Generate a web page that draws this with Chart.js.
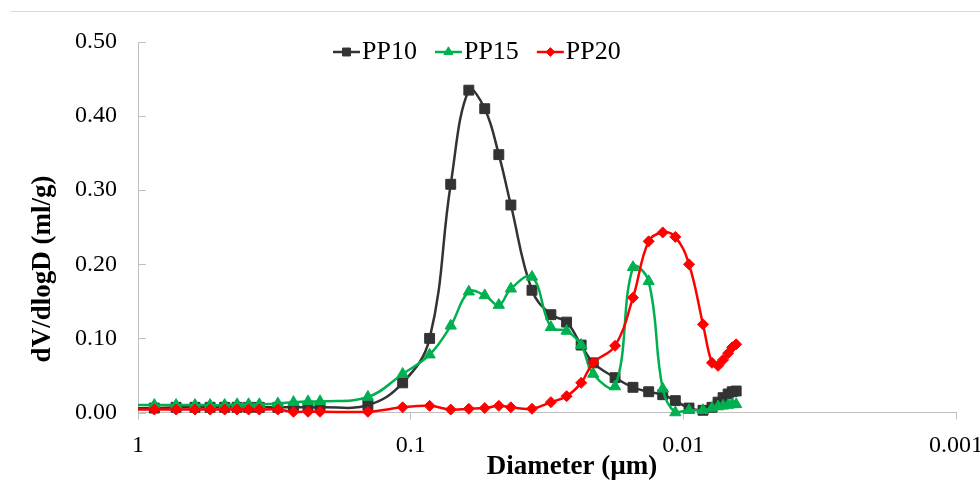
<!DOCTYPE html>
<html>
<head>
<meta charset="utf-8">
<script src="https://cdn.jsdelivr.net/npm/chart.js@4.4.1/dist/chart.umd.min.js"></script>
<style>
  html, body { margin: 0; padding: 0; background: #fff; }
  #wrap { width: 980px; height: 481px; }
</style>
</head>
<body>
<div id="wrap"><canvas id="poreChart" width="980" height="481"></canvas></div>
<script>
// pore diameter (um)
const diameters = [1.2, 0.871, 0.725, 0.618, 0.544, 0.481, 0.433, 0.393, 0.359, 0.307, 0.269, 0.238, 0.215,
  0.1435, 0.107, 0.0852, 0.0713, 0.0612, 0.0535, 0.0475, 0.0429, 0.0359, 0.0306, 0.0268, 0.0237, 0.0214,
  0.0178, 0.0153, 0.0134, 0.0119, 0.0107, 0.00953, 0.00847, 0.00785, 0.00746, 0.00715, 0.00685, 0.00662, 0.0064];

// dV/dlogD (ml/g)
const pp10 = [0.006, 0.006, 0.007, 0.007, 0.007, 0.007, 0.007, 0.007, 0.007, 0.007, 0.007, 0.007, 0.007,
  0.010, 0.040, 0.100, 0.308, 0.435, 0.410, 0.348, 0.280, 0.165, 0.132, 0.122, 0.091, 0.067,
  0.047, 0.034, 0.028, 0.024, 0.016, 0.006, 0.003, 0.007, 0.014, 0.020, 0.025, 0.028, 0.029];
const pp15 = [0.010, 0.010, 0.010, 0.010, 0.010, 0.010, 0.011, 0.011, 0.011, 0.012, 0.014, 0.015, 0.015,
  0.021, 0.052, 0.078, 0.117, 0.163, 0.158, 0.145, 0.167, 0.183, 0.115, 0.110, 0.091, 0.052,
  0.035, 0.196, 0.177, 0.032, 0.000, 0.003, 0.003, 0.006, 0.008, 0.009, 0.010, 0.011, 0.011];
const pp20 = [0.004, 0.004, 0.004, 0.004, 0.004, 0.004, 0.004, 0.004, 0.004, 0.004, 0.001, 0.001, 0.001,
  0.001, 0.007, 0.009, 0.004, 0.005, 0.006, 0.009, 0.007, 0.005, 0.014, 0.022, 0.040, 0.067,
  0.090, 0.155, 0.231, 0.243, 0.237, 0.200, 0.119, 0.067, 0.063, 0.071, 0.080, 0.088, 0.092];

const seriesNames = ["PP10", "PP15", "PP20"];
const xTickValues = [1, 0.1, 0.01, 0.001];
const xTickLabels = ["1", "0.1", "0.01", "0.001"];
const yTickValues = [0, 0.1, 0.2, 0.3, 0.4, 0.5];
const xTitle = "Diameter (µm)";
const yTitle = "dV/dlogD (ml/g)";

const FONT = "'Liberation Serif', 'Times New Roman', serif";
const AXIS_GREY = "#bfbfbf";

const toPoints = vals => vals.map((v, i) => ({ x: diameters[i], y: v }));

function makeSet(label, vals, color, style, radius, order) {
  return {
    label,
    data: toPoints(vals),
    borderColor: color,
    backgroundColor: color,
    borderWidth: 2.5,
    pointStyle: style,
    pointRadius: radius,
    pointBorderWidth: 1,
    pointBorderColor: color,
    pointBackgroundColor: color,
    tension: 0.4,
    order,
    clip: { left: 0, top: 10, right: 10, bottom: 10 }
  };
}

// thin rule across the top of the picture
const topRule = {
  id: "topRule",
  beforeDraw(chart) {
    const ctx = chart.ctx;
    ctx.save();
    ctx.strokeStyle = "#d9d9d9";
    ctx.lineWidth = 1;
    ctx.beginPath();
    ctx.moveTo(10, 11.5);
    ctx.lineTo(980, 11.5);
    ctx.stroke();
    ctx.restore();
  }
};

// y tick marks point into the plot
const innerTicks = {
  id: "innerTicks",
  beforeDatasetsDraw(chart) {
    const ctx = chart.ctx, y = chart.scales.y, left = chart.chartArea.left;
    ctx.save();
    ctx.strokeStyle = AXIS_GREY;
    ctx.lineWidth = 1;
    yTickValues.forEach(v => {
      const py = Math.round(y.getPixelForValue(v)) + 0.5;
      ctx.beginPath();
      ctx.moveTo(left, py);
      ctx.lineTo(left + 8, py);
      ctx.stroke();
    });
    ctx.restore();
  }
};

const axisTitles = {
  id: "axisTitles",
  afterDraw(chart) {
    const ctx = chart.ctx;
    ctx.save();
    ctx.fillStyle = "#000";
    ctx.font = "bold 27px " + FONT;
    ctx.textAlign = "center";
    ctx.textBaseline = "middle";
    ctx.fillText(xTitle, 572, 467);
    ctx.translate(43, 269);
    ctx.rotate(-Math.PI / 2);
    ctx.fillText(yTitle, 0, 0);
    ctx.restore();
  }
};

// line + marker legend like the spreadsheet one
const lineLegend = {
  id: "lineLegend",
  afterDraw(chart) {
    const ctx = chart.ctx;
    let x = 333;
    const y = 52;
    ctx.save();
    ctx.font = "26px " + FONT;
    ctx.textBaseline = "middle";
    chart.data.datasets.forEach(ds => {
      ctx.strokeStyle = ds.borderColor;
      ctx.fillStyle = ds.borderColor;
      ctx.lineWidth = 2.5;
      ctx.beginPath();
      ctx.moveTo(x, y);
      ctx.lineTo(x + 27, y);
      ctx.stroke();
      ctx.lineWidth = 1;
      Chart.helpers.drawPoint(ctx, { pointStyle: ds.pointStyle, radius: ds.pointRadius * 0.8, borderWidth: 1, rotation: 0 }, x + 13.5, y);
      ctx.fillStyle = "#000";
      ctx.fillText(ds.label, x + 29, y);
      x += 29 + ctx.measureText(ds.label).width + 18;
    });
    ctx.restore();
  }
};

new Chart(document.getElementById("poreChart"), {
  type: "line",
  data: {
    datasets: [
      makeSet(seriesNames[0], pp10, "#333333", "rect", 7, 3),
      makeSet(seriesNames[1], pp15, "#00b050", "triangle", 6.5, 2),
      makeSet(seriesNames[2], pp20, "#ff0000", "rectRot", 5.5, 1)
    ]
  },
  options: {
    responsive: false,
    devicePixelRatio: 1,
    animation: false,
    layout: { padding: { top: 42, right: 24, bottom: 0, left: 0 } },
    plugins: { legend: { display: false }, tooltip: { enabled: false } },
    scales: {
      x: {
        type: "logarithmic",
        reverse: true,
        min: 0.001,
        max: 1,
        afterBuildTicks: s => { s.ticks = xTickValues.map(v => ({ value: v })); },
        afterFit: s => { s.height = 68.5; s.paddingLeft = 0; s.paddingRight = 0; },
        ticks: {
          autoSkip: false,
          maxRotation: 0,
          padding: 12,
          color: "#000",
          font: { family: FONT, size: 24 },
          callback: v => xTickLabels[xTickValues.indexOf(v)]
        },
        grid: { drawOnChartArea: false, drawTicks: true, tickLength: 7, color: AXIS_GREY },
        border: { color: AXIS_GREY, width: 1 }
      },
      y: {
        min: 0,
        max: 0.5,
        afterBuildTicks: s => { s.ticks = yTickValues.map(v => ({ value: v })); },
        afterFit: s => { s.width = 138; s.paddingTop = 0; s.paddingBottom = 0; },
        ticks: {
          padding: 21,
          color: "#000",
          font: { family: FONT, size: 24 },
          callback: v => v.toFixed(2)
        },
        grid: { drawOnChartArea: false, drawTicks: false },
        border: { color: AXIS_GREY, width: 1 }
      }
    }
  },
  plugins: [topRule, innerTicks, axisTitles, lineLegend]
});
</script>
</body>
</html>
